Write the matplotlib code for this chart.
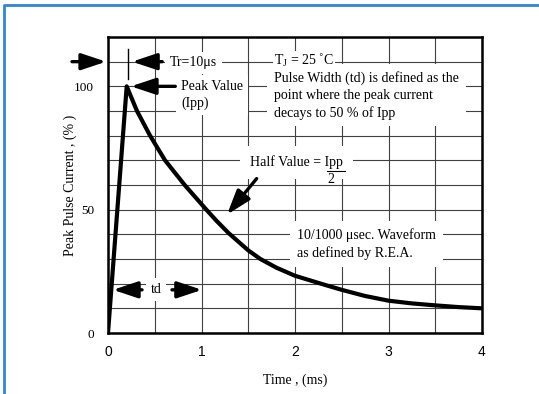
import numpy as np
import matplotlib
matplotlib.use("Agg")
import matplotlib.pyplot as plt
from matplotlib.lines import Line2D

# waveform: time (ms) vs peak pulse current (%)
time_ms = [0, 0.2, 0.31, 0.45, 0.61, 0.82, 1.04, 1.16, 1.29, 1.5, 1.63, 1.8, 2.0,
           2.32, 2.5, 2.75, 3.0, 3.25, 3.5, 3.75, 4.0]
current_pct = [0, 100, 90, 80, 70, 60, 50.5, 45.5, 40.5, 33.5, 30, 26.5, 23.2,
               19.5, 17.5, 15, 13.1, 12, 11.2, 10.5, 10]

x_ticks = [0, 1, 2, 3, 4]
y_ticks = [0, 50, 100]

serif = "Liberation Serif"
sans = "Liberation Sans"

fig = plt.figure(figsize=(5.39, 3.94), dpi=100)
ax = fig.add_axes([108/539, 1-333/394, 374/539, 296/394])

ax.plot(time_ms, current_pct, color="black", lw=3.0, solid_joinstyle="round",
        solid_capstyle="butt", zorder=4)

ax.set_xlim(0, 4)
ax.set_ylim(0, 120)
ax.set_xticks(x_ticks)
ax.set_xticks(np.arange(0, 4.01, 0.5), minor=True)
ax.set_yticks(y_ticks)
ax.set_yticks(np.arange(0, 121, 10), minor=True)
ax.set_xticklabels([str(v) for v in x_ticks], fontfamily=sans, fontsize=10)
ax.set_yticklabels([str(v) for v in y_ticks], fontfamily=serif, fontsize=9.5)
ax.tick_params(which="both", length=0)
ax.tick_params(axis="x", pad=9)
ax.tick_params(axis="y", pad=10)
ax.grid(which="both", color="0.25", lw=0.8)
ax.set_axisbelow(True)
for s in ax.spines.values():
    s.set_linewidth(1.8)

ax.set_xlabel("Time , (ms)", fontfamily=serif, fontsize=10, labelpad=10)
ax.set_ylabel("Peak Pulse Current , (% )", fontfamily=serif, fontsize=10, labelpad=-2)

box = dict(facecolor="white", edgecolor="none", boxstyle="square,pad=0.35")
fs = 10

def arrow(x0, y0, x1, y1):
    ax.annotate("", xy=(x1, y1), xytext=(x0, y0), annotation_clip=False,
                arrowprops=dict(arrowstyle="-|>,head_length=0.75,head_width=0.25",
                                color="black", lw=2.4, mutation_scale=20,
                                shrinkA=0, shrinkB=0), zorder=5)

# rise time
arrow(-0.385, 110, -0.02, 110)
ax.plot([0.214, 0.214], [103, 115], color="black", lw=1.0, zorder=5)
arrow(0.58, 110, 0.257, 110)
ax.text(0.66, 109.5, "Tr=10μs", fontfamily=serif, fontsize=fs, va="center", bbox=box)

# peak value
arrow(0.72, 100, 0.245, 100)
ax.text(0.78, 96.5, "Peak Value\n(Ipp)", fontfamily=serif, fontsize=fs, va="center",
        linespacing=1.4, bbox=box)

ax.text(1.775, 96.4, "Pulse Width (td) is defined as the\npoint where the peak current\n"
        "decays to 50 % of Ipp", fontfamily=serif, fontsize=fs, va="center",
        linespacing=1.38, zorder=3,
        bbox=dict(facecolor="white", edgecolor="none", boxstyle="square,pad=0.5"))
ax.text(1.775, 110.4, r"T$_\mathregular{J}$ = 25 ˚C", fontfamily=serif, fontsize=fs,
        va="center", zorder=6,
        bbox=dict(facecolor="white", edgecolor="none", boxstyle="square,pad=0.05"))

# half value
ax.text(1.52, 69.1, "Half Value = Ipp", fontfamily=serif, fontsize=fs, va="center",
        bbox=dict(facecolor="white", edgecolor="none", boxstyle="square,pad=0.7"))
ax.text(2.385, 62.2, "2", fontfamily=serif, fontsize=fs, va="center", ha="center")
ax.plot([2.34, 2.53], [65.8, 65.8], color="black", lw=0.8, zorder=5)
arrow(1.59, 62.6, 1.273, 48)

ax.text(2.02, 36, "10/1000 μsec. Waveform\nas defined by R.E.A.", fontfamily=serif,
        fontsize=fs, va="center", linespacing=1.4,
        bbox=dict(facecolor="white", edgecolor="none", boxstyle="square,pad=0.5"))

# td
ax.text(0.513, 17.5, "td", fontfamily=serif, fontsize=fs, va="center", ha="center",
        bbox=box)
arrow(0.364, 17.5, 0.053, 17.5)
arrow(0.684, 17.5, 1.005, 17.5)

# blue frame of the picture
fig.add_artist(Line2D([4/539, 4/539, 1], [0, 1-5/394, 1-5/394], color="#2f86d6",
                      lw=2, transform=fig.transFigure))

fig.savefig("out.png", dpi=100)
